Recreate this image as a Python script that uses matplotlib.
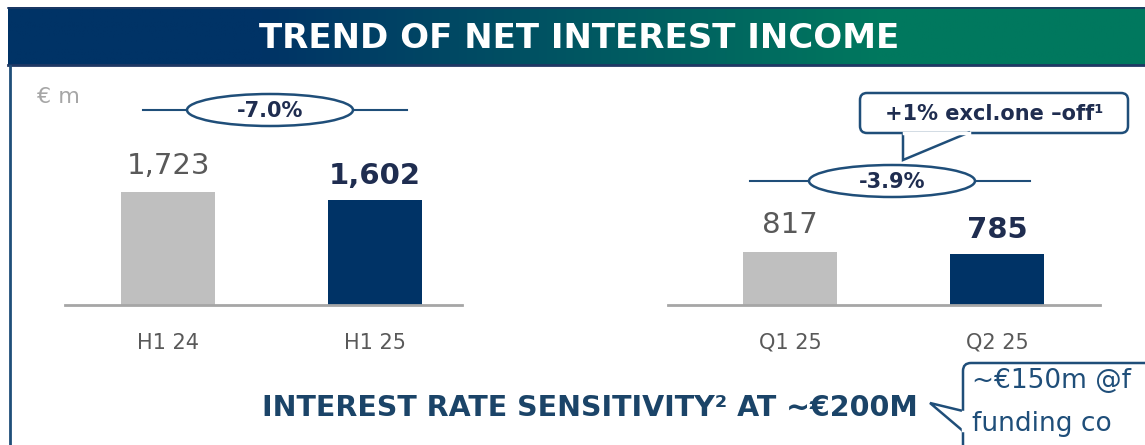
import numpy as np
import matplotlib
matplotlib.use("Agg")
import matplotlib.pyplot as plt
from matplotlib.patches import Ellipse, FancyBboxPatch, Polygon
from matplotlib.colors import LinearSegmentedColormap

# ---------------- data ----------------
left_categories = ["H1 24", "H1 25"]
left_values = [1723, 1602]
left_labels = ["1,723", "1,602"]
right_categories = ["Q1 25", "Q2 25"]
right_values = [817, 785]
right_labels = ["817", "785"]
left_change = "-7.0%"
right_change = "-3.9%"
callout_text = "+1% excl.one \u2013off\u00b9"
title_text = "TREND OF NET INTEREST INCOME"
bottom_text = "INTEREST RATE SENSITIVITY\u00b2 AT ~\u20ac200M"
side_note = ["~\u20ac150m @f", "funding co"]
unit_text = "\u20ac m"

W, H = 1145, 445
fig = plt.figure(figsize=(W / 100, H / 100), dpi=100)
fig.patch.set_facecolor("white")

bg = fig.add_axes([0, 0, 1, 1])
bg.set_xlim(0, W)
bg.set_ylim(H, 0)
bg.axis("off")

NAVY = "#003366"
GREEN = "#00785e"
EDGE = "#1f4e79"
DARKTXT = "#1f2d50"
GREYTXT = "#595959"

# header gradient
xs = np.linspace(8, W, 512)
t = np.clip((xs - 260) / (880 - 260), 0, 1)
grad = np.vstack([t, t])
cmap = LinearSegmentedColormap.from_list("hdr", [NAVY, GREEN])
bg.imshow(grad, cmap=cmap, extent=(8, W, 66, 7), aspect="auto", zorder=1, vmin=0, vmax=1)
bg.plot([8, W], [7.5, 7.5], color="#1f3864", lw=1.2, zorder=2)
bg.plot([8, W], [65, 65], color="#1f3864", lw=2, zorder=2)
bg.plot([10, 10], [66, H], color=EDGE, lw=2, zorder=2)
bg.text(579, 38, title_text, color="white", fontsize=24.5, fontweight="bold",
        ha="center", va="center", zorder=3)

bg.text(37, 97, unit_text, color="#a6a6a6", fontsize=16, ha="left", va="center")

# ---------------- bar axes ----------------
def bar_axes(x0, x1, cats, vals, labels, xlim):
    ax = fig.add_axes([x0 / W, (H - 305) / H, (x1 - x0) / W, 225 / H])
    ax.patch.set_alpha(0)
    x = np.arange(len(cats))
    ax.bar(x, vals, width=0.454, color=["#bfbfbf", NAVY], zorder=2)
    ax.set_xlim(*xlim)
    ax.set_ylim(0, 3440)
    for s in ["top", "left", "right"]:
        ax.spines[s].set_visible(False)
    ax.spines["bottom"].set_color("#a6a6a6")
    ax.spines["bottom"].set_linewidth(2)
    ax.set_yticks([])
    ax.set_xticks(x)
    ax.set_xticklabels(cats, color=GREYTXT, fontsize=15)
    ax.tick_params(axis="x", length=0, pad=20)
    for i, (v, lab) in enumerate(zip(vals, labels)):
        if i == 0:
            ax.annotate(lab, (x[i], v), xytext=(0, 9), textcoords="offset points",
                        ha="center", va="bottom", fontsize=21, color=GREYTXT)
        else:
            ax.annotate(lab, (x[i], v), xytext=(0, 7), textcoords="offset points",
                        ha="center", va="bottom", fontsize=21, color=DARKTXT,
                        fontweight="bold")
    return ax

bar_axes(65, 462, left_categories, left_values, left_labels, (-0.498, 1.42))
bar_axes(668, 1100, right_categories, right_values, right_labels, (-0.589, 1.498))

# ---------------- change ellipses ----------------
def change_badge(cx, cy, x0, x1, txt):
    bg.plot([x0, cx - 83], [cy, cy], color=EDGE, lw=1.5, zorder=3)
    bg.plot([cx + 83, x1], [cy, cy], color=EDGE, lw=1.5, zorder=3)
    bg.add_patch(Ellipse((cx, cy), 166, 32, facecolor="white", edgecolor=EDGE,
                         lw=1.8, zorder=4))
    bg.text(cx, cy + 1, txt, ha="center", va="center", fontsize=15,
            fontweight="bold", color=DARKTXT, zorder=5)

change_badge(270, 110, 143, 407, left_change)
change_badge(892, 181, 750, 1030, right_change)

# top-right callout
bg.add_patch(FancyBboxPatch((860, 93), 268, 40, boxstyle="round,pad=0,rounding_size=7",
                            facecolor="white", edgecolor=EDGE, lw=1.8, zorder=4))
bg.add_patch(Polygon([[903, 132], [903, 160], [970, 132]], closed=False,
                     facecolor="white", edgecolor=EDGE, lw=1.8, zorder=5))
bg.plot([904, 969], [133, 133], color="white", lw=2.5, zorder=6)
bg.text(994, 114, callout_text, ha="center", va="center", fontsize=15,
        fontweight="bold", color=DARKTXT, zorder=7)

# bottom text and side note
bg.text(590, 408, bottom_text, ha="center", va="center", fontsize=20.5,
        fontweight="bold", color="#1b4468", zorder=3)
bg.add_patch(FancyBboxPatch((963, 363), 300, 120, boxstyle="round,pad=0,rounding_size=8",
                            facecolor="white", edgecolor=EDGE, lw=1.8, zorder=4))
bg.add_patch(Polygon([[963, 411], [930, 403], [963, 431]], closed=False,
                     facecolor="white", edgecolor=EDGE, lw=1.8, zorder=5))
bg.plot([963, 963], [412, 430], color="white", lw=2.5, zorder=6)
bg.text(972, 381, side_note[0], ha="left", va="center", fontsize=19,
        color=EDGE, zorder=7)
bg.text(972, 424, side_note[1], ha="left", va="center", fontsize=19,
        color=EDGE, zorder=7)

fig.savefig("out.png", dpi=100)
